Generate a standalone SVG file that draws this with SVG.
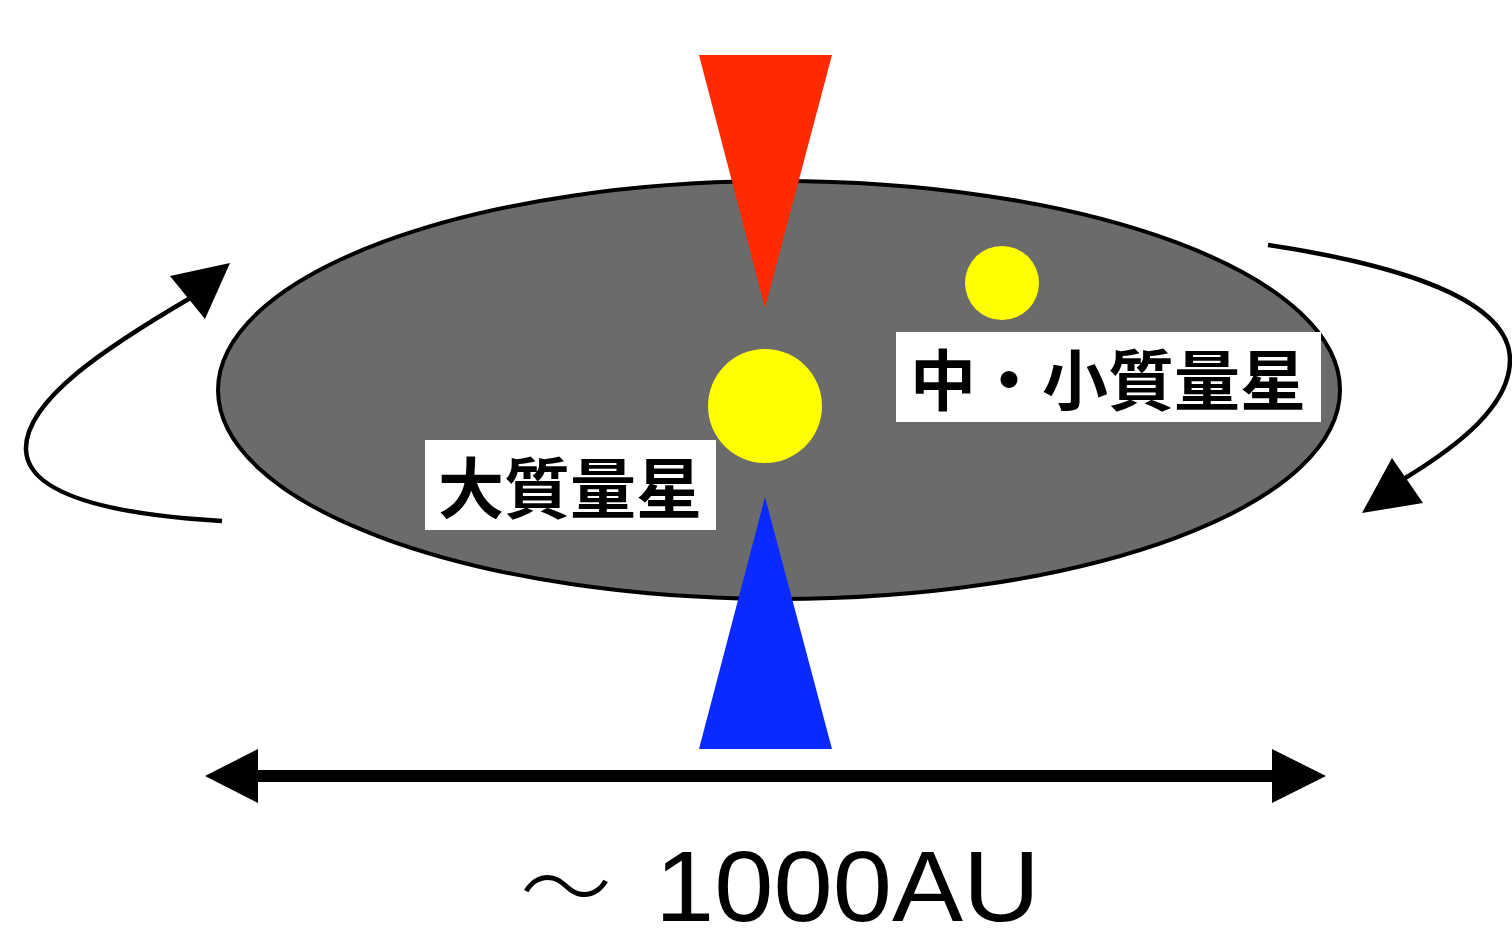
<svg xmlns="http://www.w3.org/2000/svg" width="1512" height="937" viewBox="0 0 1512 937">
  <style>
    .jp { font-family: "Noto Sans CJK JP", "Noto Sans CJK SC", sans-serif; font-weight: 700; fill: #000; }
    .box { fill: #fff; }
    .orbit { fill: none; stroke: #000; stroke-width: 4.5; stroke-linecap: butt; }
    .head { fill: #000; }
    .star { fill: #ffff00; }
  </style>
  <rect width="1512" height="937" fill="#fff"/>

  <!-- disk -->
  <g id="disk">
    <ellipse cx="779" cy="390" rx="561" ry="209" fill="#6b6b6b" stroke="#000" stroke-width="4"/>
  </g>

  <!-- bipolar outflow -->
  <g id="jet-red">
    <polygon points="699,55 832,55 765,308" fill="#ff2a00"/>
  </g>
  <g id="jet-blue">
    <polygon points="765,497 832,749 699,749" fill="#0a2aff"/>
  </g>

  <!-- stars -->
  <g id="massive-star">
    <circle class="star" cx="765" cy="406" r="57"/>
  </g>
  <g id="low-mass-star">
    <circle class="star" cx="1002" cy="283" r="37"/>
  </g>

  <!-- labels -->
  <g id="label-massive">
    <rect class="box" x="425" y="440" width="291" height="90"/>
    <text class="jp" x="570" y="513" font-size="66" text-anchor="middle">大質量星</text>
  </g>
  <g id="label-low-mass">
    <rect class="box" x="896" y="332" width="425" height="90"/>
    <text class="jp" x="1108" y="405" font-size="66" text-anchor="middle">中・小質量星</text>
  </g>

  <!-- rotation arrows and scale bar -->
  <g id="connectors">
    <path class="orbit" d="M222,521 C120,515 28,497 26,450 C24,400 110,345 192,297"/>
    <polygon class="head" points="230,263 170,276 205,319"/>
    <path class="orbit" d="M1268,245 C1400,265 1510,300 1510,360 C1510,405 1460,445 1402,480"/>
    <polygon class="head" points="1362,513 1392,458 1423,503"/>

    <rect x="256" y="770" width="1018" height="12" fill="#000"/>
    <polygon class="head" points="205,776 258,749 258,803"/>
    <polygon class="head" points="1326,776 1272,749 1272,803"/>
  </g>

  <g id="scale-label">
    <text y="921" font-size="100" font-family="Liberation Sans, Noto Sans CJK JP, sans-serif" fill="#000"><tspan x="520" font-family="Noto Sans CJK JP, sans-serif" font-weight="300" font-size="92">〜 </tspan><tspan x="655" textLength="385" lengthAdjust="spacingAndGlyphs">1000AU</tspan></text>
  </g>
</svg>
